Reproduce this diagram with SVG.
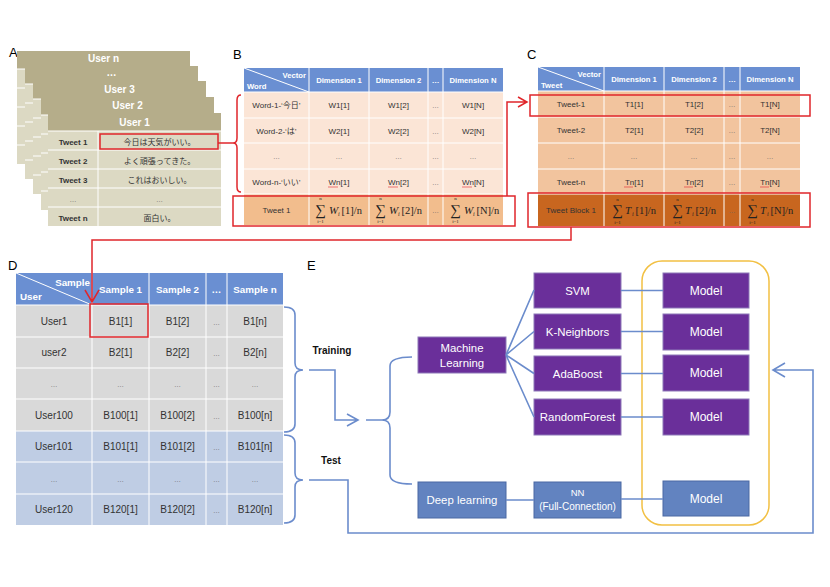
<svg xmlns="http://www.w3.org/2000/svg" width="830" height="587" viewBox="0 0 830 587">
<style>
text{font-family:"Liberation Sans","Noto Sans CJK JP",sans-serif}
.lbl{font-size:13px;fill:#000}
.hA{font-size:10px;font-weight:bold;fill:#fff;text-anchor:middle}
.cAb{font-size:8px;font-weight:bold;fill:#333;text-anchor:middle}
.jp{font-family:"Noto Sans CJK JP",sans-serif;font-size:8px;fill:#333;text-anchor:middle}
.hB{font-size:7.7px;font-weight:bold;fill:#fff;text-anchor:middle}
.hBe{font-size:7.7px;font-weight:bold;fill:#fff;text-anchor:end}
.hBs{font-size:7.7px;font-weight:bold;fill:#fff}
.cB{font-size:8px;fill:#333;text-anchor:middle}
.dots{font-size:7px;fill:#666;text-anchor:middle}
.hD{font-size:9.8px;font-weight:bold;fill:#fff;text-anchor:middle}
.cD{font-size:10px;fill:#333;text-anchor:middle}
.box{font-size:11.4px;fill:#fff;text-anchor:middle}
.tr{font-size:10px;font-weight:bold;fill:#111;text-anchor:middle}
.m{font-family:"Liberation Serif","DejaVu Serif",serif;fill:#222}
.sig{font-size:15px}
.lim{font-size:5px;text-anchor:middle}
.grid{stroke:#fff;stroke-width:1;fill:none}
.red{fill:none;stroke:#e0262b;stroke-width:1.5}
.blue{fill:none;stroke:#6b8ccc;stroke-width:1.6}
.purple{fill:#6a2f9a;stroke:#8d79b8;stroke-width:1}
.bluebox{fill:#6283c0;stroke:#4a68a3;stroke-width:1}
.spell{fill:none;stroke:#e0262b;stroke-width:0.6}
</style>
<defs>
<g id="layerBase">
<rect x="0" y="0" width="173" height="18" fill="#b5ad8a"/>
<rect x="0" y="18" width="173" height="95" fill="#dcd9c3"/>
<path class="grid" d="M0,18H173M0,37H173M0,56H173M0,75H173M0,94H173M50,18V113"/>
</g>
</defs>
<rect width="830" height="587" fill="#fff"/>

<!-- Panel labels -->
<text class="lbl" x="9" y="57">A</text>
<text class="lbl" x="233" y="59">B</text>
<text class="lbl" x="527" y="59">C</text>
<text class="lbl" x="8" y="270">D</text>
<text class="lbl" x="307" y="270">E</text>

<!-- Panel A -->
<g id="panelA">
<use href="#layerBase" x="17" y="51"/>
<text class="hA" x="103.5" y="62">User n</text>
<use href="#layerBase" x="25" y="66"/>
<text class="hA" x="111.5" y="76">…</text>
<use href="#layerBase" x="33" y="81"/>
<text class="hA" x="119.5" y="93">User 3</text>
<use href="#layerBase" x="41" y="97"/>
<text class="hA" x="127.5" y="109">User 2</text>
<use href="#layerBase" x="48" y="113"/>
<text class="hA" x="134.5" y="126">User 1</text>
<text class="cAb" x="73" y="144.5">Tweet 1</text>
<text class="cAb" x="73" y="163.5">Tweet 2</text>
<text class="cAb" x="73" y="182.5">Tweet 3</text>
<text class="dots" x="73" y="201.5">…</text>
<text class="cAb" x="73" y="220.5">Tweet n</text>
<text class="jp" x="159.5" y="144.5">今日は天気がいい。</text>
<text class="jp" x="159.5" y="163.5">よく頑張ってきた。</text>
<text class="jp" x="159.5" y="182.5">これはおいしい。</text>
<text class="dots" x="159.5" y="201.5">…</text>
<text class="jp" x="159.5" y="220.5">面白い。</text>
<rect class="red" x="100" y="134" width="118" height="15"/>
</g>

<!-- Panel B -->
<g id="panelB">
<rect x="244" y="68" width="259" height="24" fill="#6a8fd2"/>
<rect x="244" y="92" width="259" height="102" fill="#fbe5d6"/>
<rect x="244" y="194" width="259" height="31" fill="#f2bd8d"/>
<path class="grid" d="M244,92H503M244,118H503M244,143H503M244,169H503M244,194H503M309,68V225M369,68V225M428,68V225M443,68V225M244,68L309,92"/>
<text class="hBe" x="306" y="78">Vector</text>
<text class="hBs" x="247" y="89">Word</text>
<text class="hB" x="339" y="83">Dimension 1</text>
<text class="hB" x="398.5" y="83">Dimension 2</text>
<text class="hB" x="435.5" y="83">…</text>
<text class="hB" x="473" y="83">Dimension N</text>
<text class="cB" x="276.5" y="108">Word-1-‘今日’</text>
<text class="cB" x="339" y="108">W1[1]</text>
<text class="cB" x="398.5" y="108">W1[2]</text>
<text class="dots" x="435.5" y="108">…</text>
<text class="cB" x="473" y="108">W1[N]</text>
<text class="cB" x="276.5" y="133.5">Word-2-‘は’</text>
<text class="cB" x="339" y="133.5">W2[1]</text>
<text class="cB" x="398.5" y="133.5">W2[2]</text>
<text class="dots" x="435.5" y="133.5">…</text>
<text class="cB" x="473" y="133.5">W2[N]</text>
<text class="dots" x="276.5" y="159">…</text>
<text class="dots" x="339" y="159">…</text>
<text class="dots" x="398.5" y="159">…</text>
<text class="dots" x="435.5" y="159">…</text>
<text class="dots" x="473" y="159">…</text>
<text class="cB" x="276.5" y="184.5">Word-n-‘いい’</text>
<text class="cB" x="339" y="184.5">Wn[1]</text>
<text class="cB" x="398.5" y="184.5">Wn[2]</text>
<text class="dots" x="435.5" y="184.5">…</text>
<text class="cB" x="473" y="184.5">Wn[N]</text>
<path class="spell" d="M328,187H338M388,187H398M462,187H472"/>
<text class="cB" x="276.5" y="212.5">Tweet 1</text>
<text class="dots" x="435.5" y="212.5">…</text>
<g transform="translate(315,209.5)">
<text class="m sig" x="0" y="5">∑</text>
<text class="m lim" x="5.5" y="-9.5">n</text>
<text class="m lim" x="5.5" y="13.5">i=1</text>
<text class="m" font-size="11" font-style="italic" x="14" y="4">W</text>
<text class="m" font-size="6" font-style="italic" x="23" y="6">i</text>
<text class="m" font-size="10.5" x="26.5" y="4">[1]/n</text>
</g>
<g transform="translate(375,209.5)">
<text class="m sig" x="0" y="5">∑</text>
<text class="m lim" x="5.5" y="-9.5">n</text>
<text class="m lim" x="5.5" y="13.5">i=1</text>
<text class="m" font-size="11" font-style="italic" x="14" y="4">W</text>
<text class="m" font-size="6" font-style="italic" x="23" y="6">i</text>
<text class="m" font-size="10.5" x="26.5" y="4">[2]/n</text>
</g>
<g transform="translate(450,209.5)">
<text class="m sig" x="0" y="5">∑</text>
<text class="m lim" x="5.5" y="-9.5">n</text>
<text class="m lim" x="5.5" y="13.5">i=1</text>
<text class="m" font-size="11" font-style="italic" x="14" y="4">W</text>
<text class="m" font-size="6" font-style="italic" x="23" y="6">i</text>
<text class="m" font-size="10.5" x="26.5" y="4">[N]/n</text>
</g>
<rect class="red" x="233" y="196" width="282" height="30"/>
</g>

<!-- Panel C -->
<g id="panelC">
<rect x="538" y="67" width="262" height="24" fill="#6a8fd2"/>
<rect x="538" y="91" width="262" height="103" fill="#f2c49e"/>
<rect x="538" y="194" width="262" height="32" fill="#c8661f"/>
<path class="grid" d="M538,91H800M538,117H800M538,143H800M538,169H800M538,194H800M604,67V226M664,67V226M724,67V226M740,67V226M538,67L604,91"/>
<text class="hBe" x="601" y="77">Vector</text>
<text class="hBs" x="541" y="88">Tweet</text>
<text class="hB" x="634" y="82">Dimension 1</text>
<text class="hB" x="694" y="82">Dimension 2</text>
<text class="hB" x="732" y="82">…</text>
<text class="hB" x="770" y="82">Dimension N</text>
<text class="cB" x="571" y="107">Tweet-1</text>
<text class="cB" x="634" y="107">T1[1]</text>
<text class="cB" x="694" y="107">T1[2]</text>
<text class="dots" x="732" y="107">…</text>
<text class="cB" x="770" y="107">T1[N]</text>
<text class="cB" x="571" y="133">Tweet-2</text>
<text class="cB" x="634" y="133">T2[1]</text>
<text class="cB" x="694" y="133">T2[2]</text>
<text class="dots" x="732" y="133">…</text>
<text class="cB" x="770" y="133">T2[N]</text>
<text class="dots" x="571" y="159">…</text>
<text class="dots" x="634" y="159">…</text>
<text class="dots" x="694" y="159">…</text>
<text class="dots" x="732" y="159">…</text>
<text class="dots" x="770" y="159">…</text>
<text class="cB" x="571" y="184.5">Tweet-n</text>
<text class="cB" x="634" y="184.5">Tn[1]</text>
<text class="cB" x="694" y="184.5">Tn[2]</text>
<text class="dots" x="732" y="184.5">…</text>
<text class="cB" x="770" y="184.5">Tn[N]</text>
<path class="spell" d="M624,187H633M684,187H693M760,187H769"/>
<text class="cB" x="571" y="213" fill="#3a2a1a">Tweet Block 1</text>
<text class="dots" x="732" y="213" fill="#3a2a1a">…</text>
<g transform="translate(612,210)">
<text class="m sig" x="0" y="5">∑</text>
<text class="m lim" x="5.5" y="-9.5">n</text>
<text class="m lim" x="5.5" y="13.5">i=1</text>
<text class="m" font-size="11" font-style="italic" x="13" y="4">T</text>
<text class="m" font-size="6" font-style="italic" x="20" y="6">i</text>
<text class="m" font-size="10.5" x="23.5" y="4">[1]/n</text>
</g>
<g transform="translate(672,210)">
<text class="m sig" x="0" y="5">∑</text>
<text class="m lim" x="5.5" y="-9.5">n</text>
<text class="m lim" x="5.5" y="13.5">i=1</text>
<text class="m" font-size="11" font-style="italic" x="13" y="4">T</text>
<text class="m" font-size="6" font-style="italic" x="20" y="6">i</text>
<text class="m" font-size="10.5" x="23.5" y="4">[2]/n</text>
</g>
<g transform="translate(747,210)">
<text class="m sig" x="0" y="5">∑</text>
<text class="m lim" x="5.5" y="-9.5">n</text>
<text class="m lim" x="5.5" y="13.5">i=1</text>
<text class="m" font-size="11" font-style="italic" x="13" y="4">T</text>
<text class="m" font-size="6" font-style="italic" x="20" y="6">i</text>
<text class="m" font-size="10.5" x="23.5" y="4">[N]/n</text>
</g>
<rect class="red" x="530" y="95" width="280" height="21"/>
<rect class="red" x="528" y="193" width="282" height="34"/>
</g>

<!-- Panel D -->
<g id="panelD">
<rect x="16" y="273" width="267" height="32" fill="#6a8fd2"/>
<rect x="16" y="305" width="267" height="126" fill="#d9d9d9"/>
<rect x="16" y="431" width="267" height="94" fill="#bfcde4"/>
<path class="grid" d="M16,305H283M16,337H283M16,368H283M16,399H283M16,431H283M16,462H283M16,494H283M92,273V525M149,273V525M206,273V525M227,273V525M16,273L92,305"/>
<text class="hD" x="90" y="286" style="text-anchor:end">Sample</text>
<text class="hD" x="20" y="300" style="text-anchor:start">User</text>
<text class="hD" x="120.5" y="293">Sample 1</text>
<text class="hD" x="177.5" y="293">Sample 2</text>
<text class="hD" x="216.5" y="293">…</text>
<text class="hD" x="255" y="293">Sample n</text>
<text class="cD" x="54" y="324.5">User1</text>
<text class="cD" x="120.5" y="324.5">B1[1]</text>
<text class="cD" x="177.5" y="324.5">B1[2]</text>
<text class="dots" x="216.5" y="324.5">…</text>
<text class="cD" x="255" y="324.5">B1[n]</text>
<text class="cD" x="54" y="356">user2</text>
<text class="cD" x="120.5" y="356">B2[1]</text>
<text class="cD" x="177.5" y="356">B2[2]</text>
<text class="dots" x="216.5" y="356">…</text>
<text class="cD" x="255" y="356">B2[n]</text>
<text class="dots" x="54" y="387">…</text>
<text class="dots" x="120.5" y="387">…</text>
<text class="dots" x="177.5" y="387">…</text>
<text class="dots" x="216.5" y="387">…</text>
<text class="dots" x="255" y="387">…</text>
<text class="cD" x="54" y="418.5">User100</text>
<text class="cD" x="120.5" y="418.5">B100[1]</text>
<text class="cD" x="177.5" y="418.5">B100[2]</text>
<text class="dots" x="216.5" y="418.5">…</text>
<text class="cD" x="255" y="418.5">B100[n]</text>
<text class="cD" x="54" y="450">User101</text>
<text class="cD" x="120.5" y="450">B101[1]</text>
<text class="cD" x="177.5" y="450">B101[2]</text>
<text class="dots" x="216.5" y="450">…</text>
<text class="cD" x="255" y="450">B101[n]</text>
<text class="dots" x="54" y="481.5">…</text>
<text class="dots" x="120.5" y="481.5">…</text>
<text class="dots" x="177.5" y="481.5">…</text>
<text class="dots" x="216.5" y="481.5">…</text>
<text class="dots" x="255" y="481.5">…</text>
<text class="cD" x="54" y="513">User120</text>
<text class="cD" x="120.5" y="513">B120[1]</text>
<text class="cD" x="177.5" y="513">B120[2]</text>
<text class="dots" x="216.5" y="513">…</text>
<text class="cD" x="255" y="513">B120[n]</text>
<rect class="red" x="90" y="304" width="58" height="33"/>
</g>

<!-- Panel E nodes -->
<g id="ml"><rect class="purple" x="418" y="337" width="88" height="36"/><text class="box" x="462" y="352">Machine</text><text class="box" x="462" y="367">Learning</text></g>
<g id="dl"><rect class="bluebox" x="418" y="482" width="88" height="36"/><text class="box" x="462" y="504">Deep learning</text></g>
<g id="svm"><rect class="purple" x="534" y="273" width="87" height="35"/><text class="box" x="577.5" y="294.5">SVM</text></g>
<g id="knn"><rect class="purple" x="534" y="314" width="87" height="35"/><text class="box" x="577.5" y="335.5">K-Neighbors</text></g>
<g id="ada"><rect class="purple" x="534" y="356" width="87" height="35"/><text class="box" x="577.5" y="377.5">AdaBoost</text></g>
<g id="rf"><rect class="purple" x="534" y="399" width="87" height="36"/><text class="box" x="577.5" y="421">RandomForest</text></g>
<g id="nn"><rect class="bluebox" x="534" y="482" width="87" height="36"/><text class="box" x="577.5" y="496" style="font-size:9.5px">NN</text><text class="box" x="577.5" y="509.5" style="font-size:10px">(Full-Connection)</text></g>
<g id="model1"><rect class="purple" x="663" y="273" width="86" height="35"/><text class="box" x="706" y="294.5" style="font-size:12px">Model</text></g>
<g id="model2"><rect class="purple" x="663" y="314" width="86" height="36"/><text class="box" x="706" y="336" style="font-size:12px">Model</text></g>
<g id="model3"><rect class="purple" x="663" y="355" width="86" height="36"/><text class="box" x="706" y="377" style="font-size:12px">Model</text></g>
<g id="model4"><rect class="purple" x="663" y="399" width="86" height="36"/><text class="box" x="706" y="421" style="font-size:12px">Model</text></g>
<g id="model5"><rect class="bluebox" x="663" y="481" width="86" height="35"/><text class="box" x="706" y="502.5" style="font-size:12px">Model</text></g>
<g id="modelGroup"><rect x="642" y="261" width="127" height="264" rx="20" fill="none" stroke="#f2c043" stroke-width="1.5"/></g>
<text class="tr" x="332" y="354">Training</text>
<text class="tr" x="331" y="464">Test</text>

<!-- Connectors -->
<g id="connectors">
<path class="red" d="M218,143H233"/>
<path class="red" d="M241,95Q237,95 237,100V138Q237,143 233,143Q237,143 237,148V187Q237,192 241,192"/>
<path class="red" d="M507,196V102H527M518,97L527,102L518,107"/>
<path class="red" d="M571,227V240H92V302M85,290L92,302L99,290"/>
<path class="blue" d="M284,307Q295,307 295,315V363Q295,370 303,370Q295,370 295,377V424Q295,432 284,432"/>
<path class="blue" d="M284,435Q295,435 295,443V473Q295,480 303,480Q295,480 295,487V515Q295,523 284,523"/>
<path class="blue" d="M309,370H335V420H358M347,414L358,420L347,426"/>
<path class="blue" d="M309,480H348V533H813V370H773M785,363L773,370L785,377"/>
<path class="blue" d="M412,357Q390,357 390,366V412Q390,420 382,420H366M382,420Q390,420 390,428V475Q390,484 412,484"/>
<path class="blue" d="M506,355L534,290M506,355L534,331.5M506,355L534,373.5M506,355L534,417"/>
<path class="blue" d="M621,290.5H663M621,331.5H663M621,373.5H663M621,417H663M506,500H534M621,499H663"/>
</g>
</svg>
